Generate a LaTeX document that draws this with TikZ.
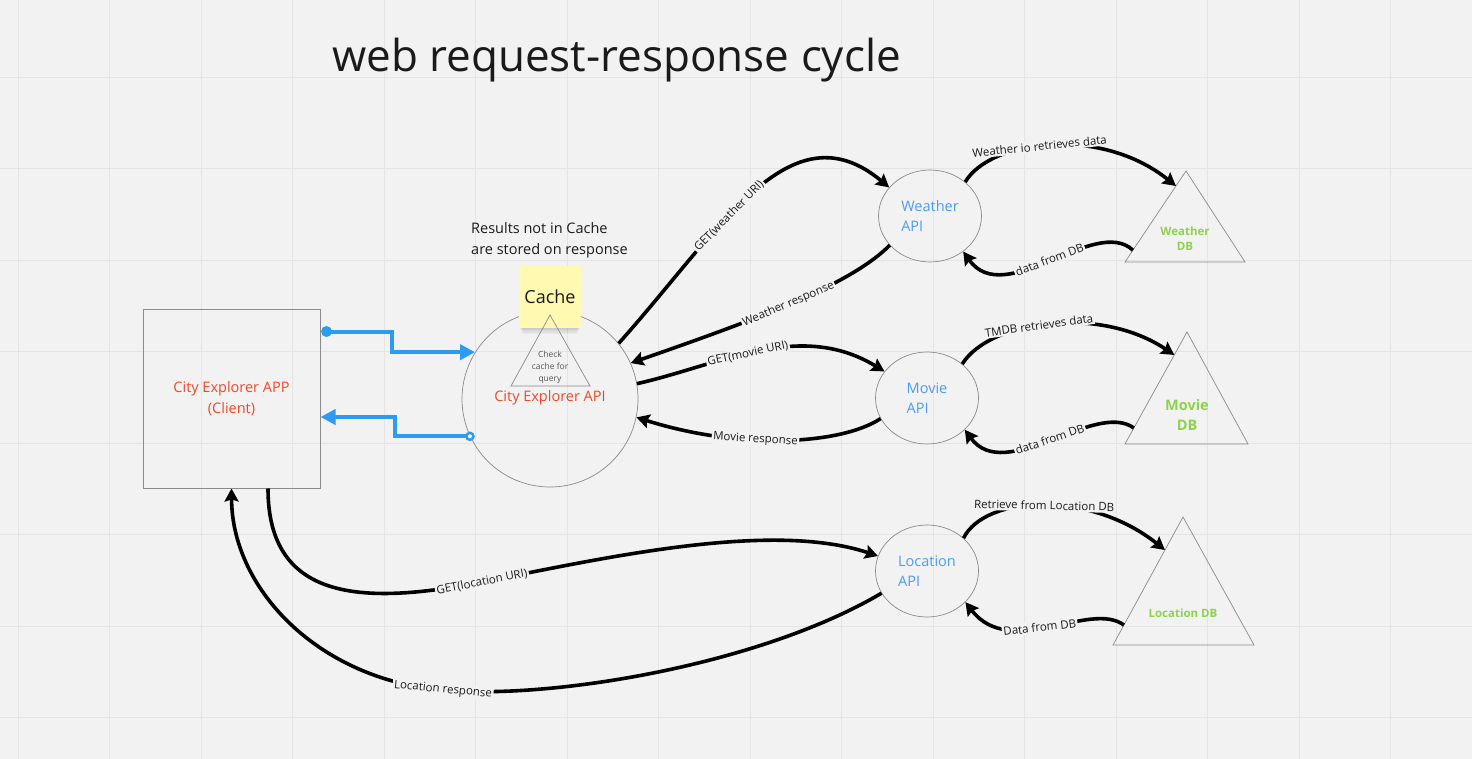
\documentclass[tikz,border=0pt]{standalone}
\usepackage{fontspec}
\setmainfont{Open Sans}
\usetikzlibrary{arrows.meta,calc,shapes.geometric}
\definecolor{bg}{HTML}{F2F2F2}
\definecolor{gridc}{HTML}{E4E4E4}
\definecolor{redt}{HTML}{F24726}
\definecolor{bluet}{HTML}{4A9CF5}
\definecolor{bluel}{HTML}{2D9BF0}
\definecolor{greent}{HTML}{8FD14F}
\definecolor{sticky}{HTML}{FFF9B1}
\definecolor{txt}{HTML}{1A1A1A}
\definecolor{bord}{HTML}{8A8A8A}
\definecolor{smallt}{HTML}{555555}
\begin{document}
\begin{tikzpicture}[x=1pt,y=-1pt,
  conn/.style={line width=3.6pt,-{Stealth[length=13pt,width=14pt,inset=2pt]}},
  lbl/.style={font=\fontsize{11.5}{13}\selectfont,text=txt,fill=bg,inner sep=1.5pt,sloped},
  apinode/.style={ellipse,draw=bord,line width=0.7pt,minimum width=103pt,minimum height=92pt,inner sep=0pt,text=bluet,font=\fontsize{14.5}{20}\selectfont,align=left},
  dbtri/.style={draw=bord,line width=0.7pt},
  dbtext/.style={text=greent,align=center,inner sep=0pt},
  bluearr/.style={line width=4pt,draw=bluel,-{Triangle[length=15pt,width=15pt]}}
]
\fill[bg] (0,0) rectangle (1472,759);
\useasboundingbox (0,0) rectangle (1472,759);
\foreach \i in {0,...,15} \draw[gridc,line width=1pt] ({18.3+91.5*\i},0) -- ({18.3+91.5*\i},759);
\foreach \j in {0,...,7} \draw[gridc,line width=1pt] (0,{77.3+91.5*\j}) -- (1472,{77.3+91.5*\j});

% title
\node[anchor=base west,font=\fontsize{44}{50}\selectfont,text=txt,inner sep=0pt] (title) at (332,72) {web request-response cycle};

% client
\node[draw=bord,line width=1pt,minimum width=177pt,minimum height=179pt,inner sep=0pt,text=redt,font=\fontsize{14.5}{21}\selectfont,align=center] (client) at (231.5,398.5) {City Explorer APP\\(Client)};

% city explorer API
\node[circle,draw=bord,line width=0.7pt,minimum size=176pt,inner sep=0pt] (capi) at (550,399) {};
\node[text=redt,font=\fontsize{14.5}{18}\selectfont] (capitext) at (550,398) {City Explorer API};

% note
\node[anchor=north west,align=left,font=\fontsize{14.5}{21}\selectfont,text=txt,inner sep=0pt] (note) at (471,222) {Results not in Cache\\are stored on response};

% sticky shadow (soft)
\foreach \k in {1,...,6}
  \fill[black,opacity=0.035] ({519+\k*0.6},300) rectangle ({581-\k*0.6},{327+\k*1.1});
% sticky
\node[fill=sticky,minimum width=62pt,minimum height=62pt,inner sep=0pt,font=\fontsize{18}{20}\selectfont,text=txt] (cache) at (550,297) {Cache};

% check triangle
\draw[dbtri] (550,315) -- (590,386) -- (511,386) -- cycle;
\node[font=\fontsize{8.5}{12}\selectfont,text=smallt,align=center,inner sep=0pt] (check) at (550,367) {Check\\cache for\\query};

% APIs
\node[apinode] (wapi) at (930,216) {Weather\\API};
\node[apinode] (mapi) at (927,398) {Movie\\API};
\node[apinode] (lapi) at (927,571) {Location\\API};

% DB triangles
\coordinate (wA) at (1186,171); \coordinate (wL) at (1125,262); \coordinate (wR) at (1245,262);
\draw[dbtri] (wA) -- (wR) -- (wL) -- cycle;
\node[dbtext,font=\bfseries\fontsize{11.5}{15}\selectfont] (wdb) at (1185,238.5) {Weather\\DB};
\coordinate (mA) at (1187,332); \coordinate (mL) at (1125,444); \coordinate (mR) at (1248,444);
\draw[dbtri] (mA) -- (mR) -- (mL) -- cycle;
\node[dbtext,font=\bfseries\fontsize{14.5}{20}\selectfont] (mdb) at (1187,415) {Movie\\DB};
\coordinate (lA) at (1183,517); \coordinate (lL) at (1113,645); \coordinate (lR) at (1254,645);
\draw[dbtri] (lA) -- (lR) -- (lL) -- cycle;
\node[dbtext,font=\bfseries\fontsize{11.5}{15}\selectfont] (ldb) at (1183,613) {Location DB};

% blue arrows
\coordinate (a1) at ($(client.north east)+(6,23)$);
\draw[bluearr] (a1) -- ++(65,0) |- (capi.148);
\fill[bluel] (a1) circle (5.5pt);
\draw[bluearr] (capi.205) -- ++(-75,0) |- ([yshift=-18.5pt]client.east);
\draw[bluel,line width=2.5pt,fill=white] (capi.205) circle (3.5pt);

% black connectors
\draw[conn] (capi.39) .. controls (720,230) and (790,105) .. (wapi.145) node[lbl,pos=0.4] {GET(weather URI)};
\draw[conn] (wapi.216) .. controls (850,285) and (760,318) .. (capi.24) node[lbl,pos=0.52] {Weather response};
\draw[conn] (capi.10) .. controls (720,365) and (800,320) .. (mapi.148) node[lbl,pos=0.45] {GET(movie URI)};
\draw[conn] (mapi.204) .. controls (840,445) and (740,450) .. (capi.-12) node[lbl,pos=0.6] {Movie response};

\draw[conn] (wapi.44) .. controls (990,140) and (1100,125) .. ($(wA)!0.165!(wL)$) node[lbl,pos=0.45] {Weather io retrieves data};
\draw[conn] ($(wA)!0.87!(wL)$) .. controls (1095,215) and (1005,310) .. (wapi.-47) node[lbl,pos=0.5] {data from DB};
\draw[conn] (mapi.44) .. controls (990,320) and (1100,305) .. ($(mA)!0.205!(mL)$) node[lbl,pos=0.45] {TMDB retrieves data};
\draw[conn] ($(mA)!0.857!(mL)$) .. controls (1095,400) and (1005,485) .. (mapi.-40) node[lbl,pos=0.5] {data from DB};
\draw[conn] (lapi.42) .. controls (985,495) and (1090,490) .. ($(lA)!0.258!(lL)$) node[lbl,pos=0.5] {Retrieve from Location DB};
\draw[conn] ($(lA)!0.844!(lL)$) .. controls (1090,600) and (1010,660) .. (lapi.-39) node[lbl,pos=0.55] {Data from DB};

\draw[conn] ([xshift=36.5pt]client.south) .. controls (268,600) and (360,606) .. (482,582) node[lbl,pos=1] {GET(location URI)} .. controls (600,559) and (770,520) .. (lapi.163);
\draw[conn] (lapi.206) .. controls (760,665) and (550,700) .. (443,690) node[lbl,pos=1] {Location response} .. controls (320,680) and (232,590) .. (client.south);
\end{tikzpicture}
\end{document}
